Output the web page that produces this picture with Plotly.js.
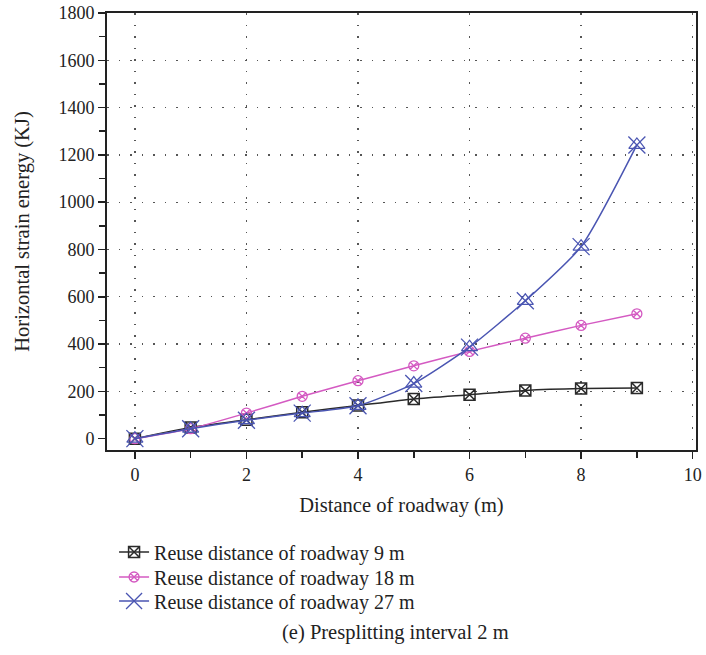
<!DOCTYPE html>
<html>
<head>
<meta charset="utf-8">
<script src="https://cdn.plot.ly/plotly-3.0.1.min.js"></script>
<style>html,body{margin:0;padding:0;background:#fff;}#chart{width:706px;height:655px;}</style>
</head>
<body>
<div id="chart"></div>
<script>
const distance = [0, 1, 2, 3, 4, 5, 6, 7, 8, 9];
const reuse9 = [0, 47, 80, 112, 140, 168, 186, 204, 212, 214];
const reuse18 = [0, 42, 108, 179, 245, 308, 369, 425, 479, 528];
const reuse27 = [0, 42, 78, 108, 139, 233, 387, 583, 812, 1242];
const seriesNames = ["Reuse distance of roadway 9 m", "Reuse distance of roadway 18 m", "Reuse distance of roadway 27 m"];
const xTickVals = [0, 2, 4, 6, 8, 10];
const yTickVals = [0, 200, 400, 600, 800, 1000, 1200, 1400, 1600, 1800];
const yGridVals = [200, 400, 600, 800, 1000, 1200, 1400, 1600];
const caption = "(e) Presplitting interval 2 m";

const serif = "Liberation Serif, Times New Roman, serif";
const cBlack = "#2a2a2a", cPink = "#d45ac2", cBlue = "#4a55b2";
const yRange = [-48, 1800];

const traces = [
  {x: [], y: [], yaxis: "y2", mode: "markers", showlegend: false, hoverinfo: "skip"},
  {x: distance, y: reuse9, name: seriesNames[0], mode: "lines+markers", legend: "legend",
   line: {color: cBlack, width: 1.5, shape: "spline", smoothing: 0.6},
   marker: {symbol: "square-x-open", size: 11, color: cBlack, line: {width: 1.5, color: cBlack}}},
  {x: distance, y: reuse18, name: seriesNames[1], mode: "lines+markers", legend: "legend2",
   line: {color: cPink, width: 1.5, shape: "spline", smoothing: 0.6},
   marker: {symbol: "circle-x-open", size: 10, color: cPink, line: {width: 1.3, color: cPink}}},
  {x: distance, y: reuse27, name: seriesNames[2], mode: "lines+markers", legend: "legend3",
   line: {color: cBlue, width: 1.5, shape: "spline", smoothing: 0.6},
   marker: {symbol: "x-thin-open", size: 17, color: cBlue, line: {width: 1.3, color: cBlue}}},
  {x: distance, y: reuse27, name: seriesNames[2], mode: "markers", showlegend: false, hoverinfo: "skip",
   marker: {symbol: "triangle-up-open", size: 14, color: cBlue, line: {width: 1.2, color: cBlue}}}
];

function legendAt(py) {
  return {x: 0.012, xanchor: "left", y: (450 - py) / 437, yanchor: "middle", bgcolor: "rgba(0,0,0,0)",
          font: {family: serif, size: 20, color: "#222"}, itemwidth: 30};
}

const layout = {
  width: 706, height: 655,
  margin: {l: 107, r: 10, t: 13, b: 205},
  paper_bgcolor: "#fff", plot_bgcolor: "#fff",
  font: {family: serif, size: 18, color: "#222"},
  showlegend: true,
  legend: legendAt(552),
  legend2: legendAt(577),
  legend3: legendAt(601),
  xaxis: {
    range: [-0.5, 10.06], tickvals: xTickVals, ticks: "outside", ticklen: 7, tickwidth: 1.5, tickcolor: "#222",
    minor: {dtick: 1, ticks: "outside", ticklen: 6, tickwidth: 1.5, tickcolor: "#222", showgrid: false},
    showline: true, linecolor: "#222", linewidth: 2, mirror: true,
    showgrid: true, gridcolor: "#555", gridwidth: 1.3, griddash: "1.5px,10px",
    zeroline: false,
    title: {text: "Distance of roadway (m)", font: {family: serif, size: 20.5}, standoff: 14},
    tickfont: {family: serif, size: 18}
  },
  yaxis: {
    range: yRange, tickvals: yTickVals, ticks: "outside", ticklen: 7, tickwidth: 1.5, tickcolor: "#222",
    minor: {dtick: 100, ticks: "outside", ticklen: 6, tickwidth: 1.5, tickcolor: "#222", showgrid: false},
    showline: true, linecolor: "#222", linewidth: 2, mirror: true,
    showgrid: false,
    zeroline: false,
    title: {text: "Horizontal strain energy (KJ)", font: {family: serif, size: 20.5}, standoff: 23},
    tickfont: {family: serif, size: 18}
  },
  yaxis2: {
    range: yRange, overlaying: "y", anchor: "x", side: "left", tickvals: yGridVals,
    showticklabels: false, ticks: "", showline: false, zeroline: false,
    showgrid: true, gridcolor: "#555", gridwidth: 1.3, griddash: "1.5px,10px"
  },
  annotations: [
    {text: caption, xref: "paper", yref: "paper", x: 0.49, y: -0.417, xanchor: "center", yanchor: "middle",
     showarrow: false, font: {family: serif, size: 20.5, color: "#222"}}
  ]
};

Plotly.newPlot("chart", traces, layout, {displayModeBar: false, staticPlot: true});
</script>
</body>
</html>
